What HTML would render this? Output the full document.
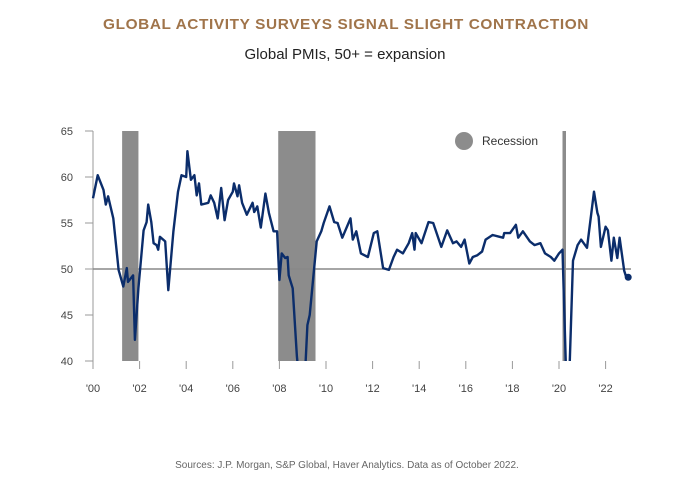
<!DOCTYPE html>
<html><head><meta charset="utf-8"><style>
html,body{margin:0;padding:0;background:#fff;}
body{width:674px;height:493px;overflow:hidden;font-family:"Liberation Sans",Arial,sans-serif;}
</style></head><body>
<svg id="chart" width="674" height="493" viewBox="0 0 674 493" xmlns="http://www.w3.org/2000/svg">
<text x="346" y="29" text-anchor="middle" font-size="15" font-weight="bold" fill="#a0744a" letter-spacing="0.6" textLength="486" lengthAdjust="spacingAndGlyphs" font-family="Liberation Sans, sans-serif">GLOBAL ACTIVITY SURVEYS SIGNAL SLIGHT CONTRACTION</text>
<text x="345" y="59" text-anchor="middle" font-size="15" fill="#222" font-family="Liberation Sans, sans-serif">Global PMIs, 50+ = expansion</text>
<text x="347" y="468" text-anchor="middle" font-size="10" fill="#666" font-family="Liberation Sans, sans-serif">Sources: J.P. Morgan, S&amp;P Global, Haver Analytics. Data as of October 2022.</text>
<g id="plot"></g>
</svg>
<script>
const recStart=[2001.25,2007.95,2020.15];
const recEnd=[2001.95,2009.55,2020.3];
const yTicks=[40,45,50,55,60,65];
const xTickYears=[2000,2002,2004,2006,2008,2010,2012,2014,2016,2018,2020,2022];
const xTickLabels=["'00","'02","'04","'06","'08","'10","'12","'14","'16","'18","'20","'22"];
const times=[2000.0,2000.2,2000.45,2000.55,2000.65,2000.87,2001.1,2001.3,2001.45,2001.5,2001.72,2001.8,2001.95,2002.17,2002.3,2002.37,2002.5,2002.6,2002.73,2002.8,2002.87,2003.1,2003.23,2003.45,2003.65,2003.8,2004.0,2004.05,2004.2,2004.35,2004.45,2004.55,2004.65,2004.95,2005.05,2005.2,2005.35,2005.5,2005.65,2005.8,2006.0,2006.05,2006.2,2006.27,2006.4,2006.6,2006.85,2006.92,2007.05,2007.2,2007.4,2007.55,2007.75,2007.9,2008.0,2008.1,2008.25,2008.35,2008.4,2008.57,2008.75,2008.9,2009.1,2009.2,2009.3,2009.45,2009.6,2009.8,2009.9,2010.15,2010.35,2010.5,2010.7,2011.05,2011.15,2011.3,2011.5,2011.8,2012.05,2012.2,2012.45,2012.7,2012.9,2013.05,2013.3,2013.55,2013.7,2013.8,2013.85,2014.1,2014.4,2014.6,2014.95,2015.2,2015.45,2015.6,2015.8,2015.95,2016.15,2016.3,2016.5,2016.7,2016.85,2017.15,2017.45,2017.6,2017.65,2017.9,2018.15,2018.25,2018.45,2018.75,2018.95,2019.2,2019.4,2019.65,2019.8,2020.0,2020.15,2020.3,2020.45,2020.6,2020.8,2020.95,2021.2,2021.5,2021.65,2021.7,2021.8,2022.0,2022.1,2022.25,2022.35,2022.5,2022.6,2022.8,2022.9,2022.97];
const values=[57.7,60.2,58.6,57.0,57.9,55.5,49.9,48.1,50.1,48.6,49.3,42.3,47.9,54.2,55.1,57.0,55.1,52.8,52.6,52.1,53.5,53.0,47.7,54.1,58.4,60.2,60.0,62.8,59.7,60.2,58.0,59.3,57.0,57.2,58.0,57.2,55.5,58.8,55.3,57.5,58.4,59.3,57.9,59.1,57.2,55.9,57.2,56.2,56.8,54.5,58.2,56.1,54.1,54.1,48.8,51.7,51.2,51.3,49.3,47.9,40.5,36.5,38.5,43.9,45.0,49.0,53.0,54.1,55.0,56.8,55.1,55.0,53.4,55.5,53.2,54.1,51.7,51.3,53.9,54.1,50.1,49.9,51.3,52.1,51.7,52.8,53.9,52.1,53.9,52.8,55.1,55.0,52.4,54.2,52.8,53.0,52.4,53.2,50.6,51.3,51.5,51.9,53.2,53.7,53.5,53.4,53.9,53.9,54.8,53.4,54.1,53.0,52.6,52.8,51.7,51.3,50.9,51.7,52.1,39.0,39.0,50.9,52.6,53.2,52.3,58.4,56.1,55.7,52.4,54.6,54.2,50.9,53.4,51.2,53.4,49.8,49.0,49.1];

const NS="http://www.w3.org/2000/svg";
const plot=document.getElementById('plot');
const X0=93, PXY=23.3, Y65=131, Y40=361;
function xs(t){return X0+(t-2000)*PXY;}
function ys(v){return Y40-(v-40)*(Y40-Y65)/25;}
function mk(tag,attrs){const e=document.createElementNS(NS,tag);for(const k in attrs)e.setAttribute(k,attrs[k]);plot.appendChild(e);return e;}

const defs=mk('defs',{});
const cp=document.createElementNS(NS,'clipPath');cp.setAttribute('id','pc');
const cr=document.createElementNS(NS,'rect');cr.setAttribute('x',80);cr.setAttribute('y',ys(65));cr.setAttribute('width',570);cr.setAttribute('height',ys(40)-ys(65));
cp.appendChild(cr);defs.appendChild(cp);

for(let i=0;i<recStart.length;i++){
  const w=Math.max(3,xs(recEnd[i])-xs(recStart[i]));
  const r=mk('rect',{x:xs(recStart[i]),y:ys(65),width:w,height:ys(40)-ys(65),fill:'#8c8c8c'});
  
  
}

const ya=mk('line',{x1:X0,y1:ys(65),x2:X0,y2:ys(40),stroke:'#999','stroke-width':1});


yTicks.forEach(v=>{
  const tk=mk('line',{x1:X0-8,y1:ys(v),x2:X0,y2:ys(v),stroke:'#999','stroke-width':1});
  
  
  const tl=mk('text',{x:73,y:ys(v)+4,'text-anchor':'end','font-size':11,fill:'#444'});
  tl.textContent=v;
  
  
});
xTickYears.forEach((yr,i)=>{
  const tk=mk('line',{x1:xs(yr),y1:ys(40),x2:xs(yr),y2:ys(40)+8,stroke:'#999','stroke-width':1});
  
  
  const tl=mk('text',{x:xs(yr),y:392,'text-anchor':'middle','font-size':11,fill:'#444'});
  tl.textContent=xTickLabels[i];
  
  
});

const fl=mk('line',{x1:X0,y1:ys(50),x2:631,y2:ys(50),stroke:'#888','stroke-width':1.5});



let d='';
times.forEach((t,i)=>{d+=(i?'L':'M')+xs(t).toFixed(1)+','+ys(values[i]).toFixed(1);});
const ln=mk('path',{d:d,fill:'none',stroke:'#0b2d6b','stroke-width':2.4,'stroke-linejoin':'round','clip-path':'url(#pc)'});


const n=times.length-1;
const dot=mk('circle',{cx:xs(times[n]),cy:ys(values[n]),r:3.5,fill:'#0b2d6b'});



const lc=mk('circle',{cx:464,cy:141,r:9,fill:'#8c8c8c'});


const lt=mk('text',{x:482,y:145,'font-size':12,fill:'#333'});
lt.textContent='Recession';


</script>
</body></html>
